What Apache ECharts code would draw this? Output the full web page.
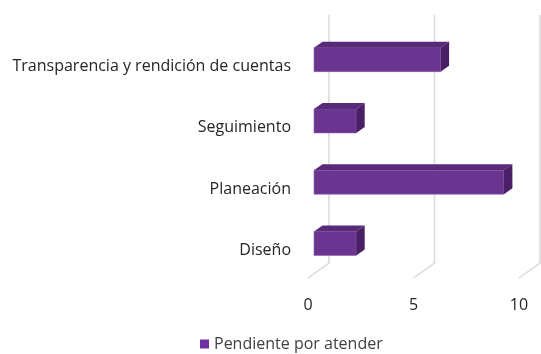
<!DOCTYPE html>
<html><head><meta charset="utf-8">
<script src="https://cdn.jsdelivr.net/npm/echarts@6/dist/echarts.min.js"></script>
<style>html,body{margin:0;padding:0;background:#fff}#c{width:541px;height:354px}</style>
</head><body><div id="c"></div>
<script>
const categories = ['Diseño', 'Planeación', 'Seguimiento', 'Transparencia y rendición de cuentas'];
const values = [2, 9, 2, 6];
const ticks = [0, 5, 10];
const seriesName = 'Pendiente por atender';

const FONT = '"Open Sans", sans-serif';
const FLOOR_SHIFT = -3;                 // floor line relative to band edge
const DEPTH_X = 21, DEPTH_Y = -15;      // floor depth (front to back wall)
const BAR_OFF_X = 6, BAR_OFF_Y = -7;    // bar front face offset from label centre
const BAR_DX = 8.5, BAR_DY = -6;        // bar depth
const BAR_H = 24;

const chart = echarts.init(document.getElementById('c'), null, {renderer: 'canvas'});
chart.setOption({
  animation: false,
  grid: {left: 308, right: 22, top: 36, bottom: 73, containLabel: false},
  xAxis: {
    type: 'value', min: 0, max: 10, interval: 5,
    axisLine: {show: false}, axisTick: {show: false}, splitLine: {show: false},
    axisLabel: {color: '#262626', fontFamily: FONT, fontSize: 16, margin: 16}
  },
  yAxis: {
    type: 'category', data: categories,
    axisLine: {show: false}, axisTick: {show: false},
    axisLabel: {color: '#262626', fontFamily: FONT, fontSize: 16, margin: 17}
  },
  legend: {
    top: 331, left: 195, icon: 'rect', itemWidth: 9, itemHeight: 9, itemGap: 5,
    data: [seriesName],
    textStyle: {color: '#404040', fontFamily: FONT, fontSize: 16}
  },
  series: [
    {
      type: 'custom', silent: true, clip: false, z: 1,
      data: ticks.map(t => [t, 0]),
      encode: {x: 0, y: 1},
      renderItem: function (params, api) {
        const v = api.value(0);
        const band = api.size([0, 1])[1];
        const pBot = api.coord([v, 0]);
        const pTop = api.coord([v, categories.length - 1]);
        const x = pBot[0], y = pBot[1] + band / 2 + FLOOR_SHIFT;
        const yTop = pTop[1] - band / 2 + DEPTH_Y - 6;
        return {
          type: 'polyline',
          shape: {points: [[x, y], [x + DEPTH_X, y + DEPTH_Y], [x + DEPTH_X, yTop]]},
          style: {stroke: '#d9d9d9', lineWidth: 1.5, fill: null}
        };
      }
    },
    {
      name: seriesName, type: 'custom', clip: false, z: 2,
      itemStyle: {color: '#7030a0'},
      encode: {x: 1, y: 0},
      data: values.map((v, i) => [i, v]),
      renderItem: function (params, api) {
        const cat = api.value(0), v = api.value(1);
        const p0 = api.coord([0, cat]);
        const p1 = api.coord([v, cat]);
        const x0 = p0[0] + BAR_OFF_X, x1 = p1[0] + BAR_OFF_X;
        const yc = p0[1] + BAR_OFF_Y;
        const yT = yc - BAR_H / 2, yB = yc + BAR_H / 2;
        return {
          type: 'group',
          children: [
            {type: 'rect', shape: {x: x0, y: yT, width: x1 - x0, height: BAR_H},
             style: {fill: '#6a3590', stroke: '#8a5aab', lineWidth: 0.6}},
            {type: 'polygon', shape: {points: [[x0, yT], [x1, yT], [x1 + BAR_DX, yT + BAR_DY], [x0 + BAR_DX, yT + BAR_DY]]},
             style: {fill: '#5a2a7a'}},
            {type: 'polygon', shape: {points: [[x1, yT], [x1 + BAR_DX, yT + BAR_DY], [x1 + BAR_DX, yB + BAR_DY], [x1, yB]]},
             style: {fill: '#4a1f66'}}
          ]
        };
      }
    }
  ]
});
</script></body></html>
